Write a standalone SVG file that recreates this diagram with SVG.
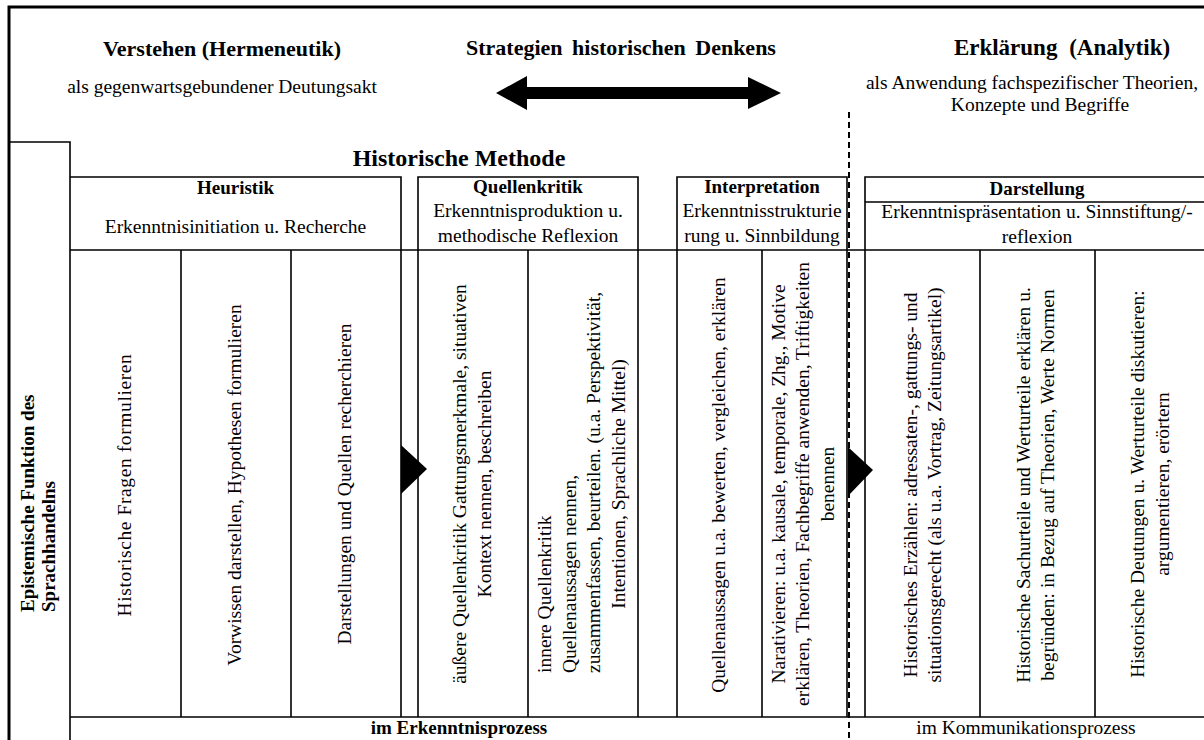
<svg xmlns="http://www.w3.org/2000/svg" width="1204" height="740" viewBox="0 0 1204 740">
<style>
text{font-family:"Liberation Serif","Times New Roman",serif;fill:#000}
.t{font-size:22px;font-weight:bold;text-anchor:middle}
.s{font-size:19.5px;text-anchor:middle}
.h{font-size:19px;font-weight:bold;text-anchor:middle}
.c{font-size:19.5px;text-anchor:middle}
.st{text-anchor:start}
.ln{stroke:#000;stroke-width:1.6;fill:none}
.bx{stroke:#000;stroke-width:1.6;fill:none}
.brd{stroke:#000;stroke-width:3;fill:none}
</style>
<rect width="1204" height="740" fill="#fff"/>

<g id="frame">
<path class="brd" d="M9,740 V7 H1210"/>
<path class="ln" d="M9,142 H70 V740"/>
<path class="ln" d="M70,250 H1210 M70,717 H1210"/>
</g>

<g id="title-verstehen">
<text class="t" x="222" y="56">Verstehen (Hermeneutik)</text>
<text class="s" x="222" y="93">als gegenwartsgebundener Deutungsakt</text>
</g>
<g id="title-strategien">
<text class="t" x="621" y="55" style="word-spacing:4px">Strategien historischen Denkens</text>
</g>
<g id="title-erklaerung">
<text class="t" x="1062" y="55" style="font-size:23px;word-spacing:6px">Erklärung (Analytik)</text>
<text class="s" x="1032" y="89">als Anwendung fachspezifischer Theorien,</text>
<text class="s" x="1040" y="111">Konzepte und Begriffe</text>
</g>

<g id="historische-methode">
<text class="t" x="459" y="166" style="font-size:24px">Historische Methode</text>
</g>

<g id="box-heuristik">
<path class="bx" d="M70,177 H401 V717"/>
<text class="h" x="235.5" y="194">Heuristik</text>
<text class="s" x="235.5" y="233">Erkenntnisinitiation u. Recherche</text>
</g>
<g id="box-quellenkritik">
<path class="bx" d="M418,717 V177 H638 V717"/>
<text class="h" x="528" y="193">Quellenkritik</text>
<text class="s" x="528" y="217">Erkenntnisproduktion u.</text>
<text class="s" x="528" y="242">methodische Reflexion</text>
</g>
<g id="box-interpretation">
<path class="bx" d="M677,717 V177 H847 V717"/>
<text class="h" x="762" y="193">Interpretation</text>
<text class="s" x="762" y="217">Erkenntnisstrukturie</text>
<text class="s" x="762" y="242">rung u. Sinnbildung</text>
</g>
<g id="box-darstellung">
<path class="bx" d="M865,717 V177 H1210 M865,202 H1210"/>
<text class="h" x="1037" y="195">Darstellung</text>
<text class="s" x="1037" y="218">Erkenntnispräsentation u. Sinnstiftung/-</text>
<text class="s" x="1037" y="243">reflexion</text>
</g>

<g id="column-lines">
<path class="ln" d="M181,250 V717 M291,250 V717 M528,250 V717 M762,250 V717 M980,250 V717 M1095,250 V717"/>
</g>

<g id="side-label" transform="translate(0,612) rotate(-90)">
<text class="h st" x="0" y="34">Epistemische Funktion des</text>
<text class="h st" x="0" y="55">Sprachhandelns</text>
</g>

<g id="col-fragen" transform="translate(125.5,485) rotate(-90)">
<text class="c" y="5" style="letter-spacing:0.6px">Historische Fragen formulieren</text>
</g>
<g id="col-vorwissen" transform="translate(236,485) rotate(-90)">
<text class="c" y="5">Vorwissen darstellen, Hypothesen formulieren</text>
</g>
<g id="col-recherche" transform="translate(346,484) rotate(-90)">
<text class="c" y="5">Darstellungen und Quellen recherchieren</text>
</g>
<g id="col-aeussere" transform="translate(473,484) rotate(-90)">
<text class="c" y="-7">äußere Quellenkritik Gattungsmerkmale, situativen</text>
<text class="c" y="18">Kontext nennen, beschreiben</text>
</g>
<g id="col-innere" transform="translate(583,484) rotate(-90)">
<text class="c st" x="-189" y="-32">innere Quellenkritik</text>
<text class="c st" x="-189" y="-7.5">Quellenaussagen nennen,</text>
<text class="c st" x="-189" y="17">zusammenfassen, beurteilen. (u.a. Perspektivität,</text>
<text class="c" x="0" y="41.5">Intentionen, Sprachliche Mittel)</text>
</g>
<g id="col-bewerten" transform="translate(719.5,485) rotate(-90)">
<text class="c" y="5">Quellenaussagen u.a. bewerten, vergleichen, erklären</text>
</g>
<g id="col-narativieren" transform="translate(804.5,484) rotate(-90)">
<text class="c" y="-20">Narativieren: u.a. kausale, temporale, Zhg., Motive</text>
<text class="c" y="4.5">erklären, Theorien, Fachbegriffe anwenden, Triftigkeiten</text>
<text class="c" y="29">benennen</text>
</g>
<g id="col-erzaehlen" transform="translate(922.5,485) rotate(-90)">
<text class="c" y="-6">Historisches Erzählen: adressaten-, gattungs- und</text>
<text class="c" y="18.5">situationsgerecht (als u.a. Vortrag, Zeitungsartikel)</text>
</g>
<g id="col-urteile" transform="translate(1037.5,485) rotate(-90)">
<text class="c" y="-8">Historische Sachurteile und Werturteile erklären u.</text>
<text class="c" y="16.5">begründen: in Bezug auf Theorien, Werte Normen</text>
</g>
<g id="col-deutungen" transform="translate(1152,484) rotate(-90)">
<text class="c" y="-8">Historische Deutungen u. Werturteile diskutieren:</text>
<text class="c" y="16.5">argumentieren, erörtern</text>
</g>

<g id="bottom-labels">
<text class="h" x="459" y="734">im Erkenntnisprozess</text>
<text class="s" x="1026" y="734">im Kommunikationsprozess</text>
</g>

<g id="connectors">
<path d="M496,93 L527,76 V87 H748 V77 L781,93 L748,109 V99 H527 V110 Z" fill="#000"/>
<path d="M849,112 V740" stroke="#000" stroke-width="2" stroke-dasharray="6,4" fill="none"/>
<path d="M401,445 L427,469 L401,494 Z" fill="#000"/>
<path d="M848,447 L873,470 L848,496 Z" fill="#000"/>
</g>
</svg>
